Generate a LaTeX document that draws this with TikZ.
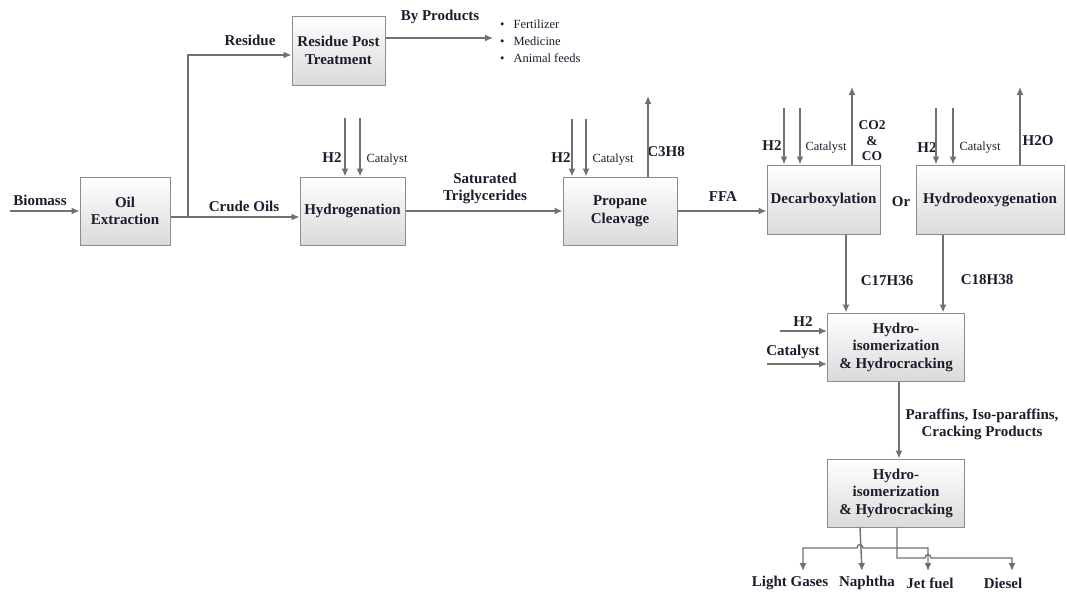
\documentclass[tikz,border=0pt]{standalone}
\usepackage{fontspec}
\setmainfont{Liberation Serif}
\usetikzlibrary{arrows.meta,calc}
\definecolor{arrc}{RGB}{112,112,112}
\definecolor{boxline}{RGB}{140,140,140}
\definecolor{boxbot}{RGB}{218,218,218}
\definecolor{txt}{RGB}{28,28,45}
\newcommand\mylbl{\bfseries\fontsize{15}{17.5}\selectfont}
\newcommand\mysml{\fontsize{12.5}{15}\selectfont}
\begin{document}
\begin{tikzpicture}[x=1pt,y=-1pt,
  box/.style={draw=boxline, line width=1pt, top color=white, bottom color=boxbot,
    inner sep=2pt, align=center, font=\mylbl, text=txt},
  lab/.style={font=\mylbl, text=txt, inner sep=1pt, align=center},
  sm/.style={font=\mysml, text=txt, inner sep=1pt},
  ln/.style={draw=arrc, line width=1.4pt},
  arr/.style={ln, -{Latex[length=8pt,width=7pt]}},
  arrb/.style={ln, {Latex[length=8pt,width=7pt]}-{Latex[length=8pt,width=7pt]}}]
\useasboundingbox (0,0) rectangle (1067,597);

% boxes
\node[box, minimum width=90, minimum height=68] (oil) at (125,211) {Oil\\Extraction};
\node[box, minimum width=93, minimum height=69] (res) at (338.5,50.5) {Residue Post\\Treatment};
\node[box, minimum width=105, minimum height=68] (hyd) at (352.5,211) {Hydrogenation};
\node[box, minimum width=114, minimum height=68] (prop) at (620,211) {Propane\\Cleavage};
\node[box, minimum width=113, minimum height=69] (dec) at (823.5,199.5) {Decarboxylation};
\node[box, minimum width=148, minimum height=69] (hdo) at (990,199.5) {Hydrodeoxygenation};
\node[box, minimum width=137, minimum height=68] (hi1) at (896,347) {Hydro-\\isomerization\\\& Hydrocracking};
\node[box, minimum width=137, minimum height=68] (hi2) at (896,493) {Hydro-\\isomerization\\\& Hydrocracking};

% labels
\node[lab] (lbio) at (40,200) {Biomass};
\node[lab] (lres) at (250,40) {Residue};
\node[lab] (lcru) at (244,206) {Crude Oils};
\node[lab] (lbyp) at (440,17) {By Products};
\node[sm, anchor=west] (b1) at (499,24) {\textbullet\hspace{9pt}Fertilizer};
\node[sm, anchor=west] (b2) at (499,41) {\textbullet\hspace{9pt}Medicine};
\node[sm, anchor=west] (b3) at (499,58) {\textbullet\hspace{9pt}Animal feeds};
\node[lab] (lsat) at (485,188.5) {Saturated\\Triglycerides};
\node[lab] (lh2a) at (332,158) {H2};
\node[sm] (lcaa) at (387,160) {Catalyst};
\node[lab] (lh2b) at (561,158) {H2};
\node[sm] (lcab) at (613,160) {Catalyst};
\node[lab] (lc3) at (666,152) {C3H8};
\node[lab] (lffa) at (723,197) {FFA};
\node[lab] (lh2c) at (772,146) {H2};
\node[sm] (lcac) at (826,148) {Catalyst};
\node[lab, font=\bfseries\fontsize{13.5}{15.5}\selectfont] (lco) at (872,141) {CO2\\\&\\CO};
\node[lab] (lor) at (901,202) {Or};
\node[lab] (lh2d) at (927,148) {H2};
\node[sm] (lcad) at (980,148) {Catalyst};
\node[lab] (lh2o) at (1038,141) {H2O};
\node[lab] (lc17) at (887,281) {C17H36};
\node[lab] (lc18) at (987,280) {C18H38};
\node[lab] (lh2e) at (803,322) {H2};
\node[lab] (lcae) at (793,352) {Catalyst};
\node[lab] (lpar) at (982,424.5) {Paraffins, Iso-paraffins,\\Cracking Products};
\node[lab] (llg) at (790,583) {Light Gases};
\node[lab] (lnap) at (867,583) {Naphtha};
\node[lab] (ljet) at (930,583) {Jet fuel};
\node[lab] (ldie) at (1003,583) {Diesel};

% free ends
\coordinate (bin) at (10,211);
\coordinate (split) at (188,217);
\coordinate (bpe) at (493,38);
\coordinate (ha1) at (345,118);
\coordinate (ha2) at (360,118);
\coordinate (pa1) at (572,119);
\coordinate (pa2) at (586,119);
\coordinate (pout) at (648,96);
\coordinate (da1) at (784,108);
\coordinate (da2) at (800,108);
\coordinate (dout) at (852,87);
\coordinate (oa1) at (936,108);
\coordinate (oa2) at (953,108);
\coordinate (oout) at (1020,87);
\coordinate (h2in) at (780,331);
\coordinate (cain) at (767,364);
\coordinate (lgt) at (803,571);
\coordinate (npt) at (862,571);
\coordinate (jft) at (928,571);
\coordinate (dst) at (1012,571);

% connectors
\draw[arr] (bin) -- (oil);
\draw[ln] (oil.east |- split) -- (split);
\draw[arr] (split) -- (hyd.west |- split);
\draw[arr] (split) |- ($(res.west)+(0,4.5)$);
\draw[arr] ($(res.east)+(0,-12.5)$) -- (bpe);
\draw[arr] (ha1) -- (ha1 |- hyd.north);
\draw[arr] (ha2) -- (ha2 |- hyd.north);
\draw[arr] (hyd) -- (prop);
\draw[arr] (pa1) -- (pa1 |- prop.north);
\draw[arr] (pa2) -- (pa2 |- prop.north);
\draw[arr] (pout |- prop.north) -- (pout);
\draw[arr] (prop.east) -- (prop.east -| dec.west);
\draw[arr] (da1) -- (da1 |- dec.north);
\draw[arr] (da2) -- (da2 |- dec.north);
\draw[arr] (dout |- dec.north) -- (dout);
\draw[arr] (oa1) -- (oa1 |- hdo.north);
\draw[arr] (oa2) -- (oa2 |- hdo.north);
\draw[arr] (oout |- hdo.north) -- (oout);
\draw[arr] ($(dec.south)+(22.5,0)$) coordinate (d1) -- (d1 |- hi1.north);
\draw[arr] ($(hdo.south)+(-47,0)$) coordinate (d2) -- (d2 |- hi1.north);
\draw[arr] (h2in) -- (h2in -| hi1.west);
\draw[arr] (cain) -- (cain -| hi1.west);
\draw[arr] ($(hi1.south)+(3,0)$) coordinate (m1) -- (m1 |- hi2.north);
\draw[arr] ($(hi2.south)+(-36,0)$) -- (npt);
\draw[arrb] (lgt) -- (803,548) -- (857,548) .. controls (857,543.5) and (863,543.5) .. (863,548) -- (928,548) -- (jft);
\draw[arr] ($(hi2.south)+(1,0)$) -- (897,558) -- (925,558) .. controls (925,553.5) and (931,553.5) .. (931,558) -- (1012,558) -- (dst);
\end{tikzpicture}
\end{document}
